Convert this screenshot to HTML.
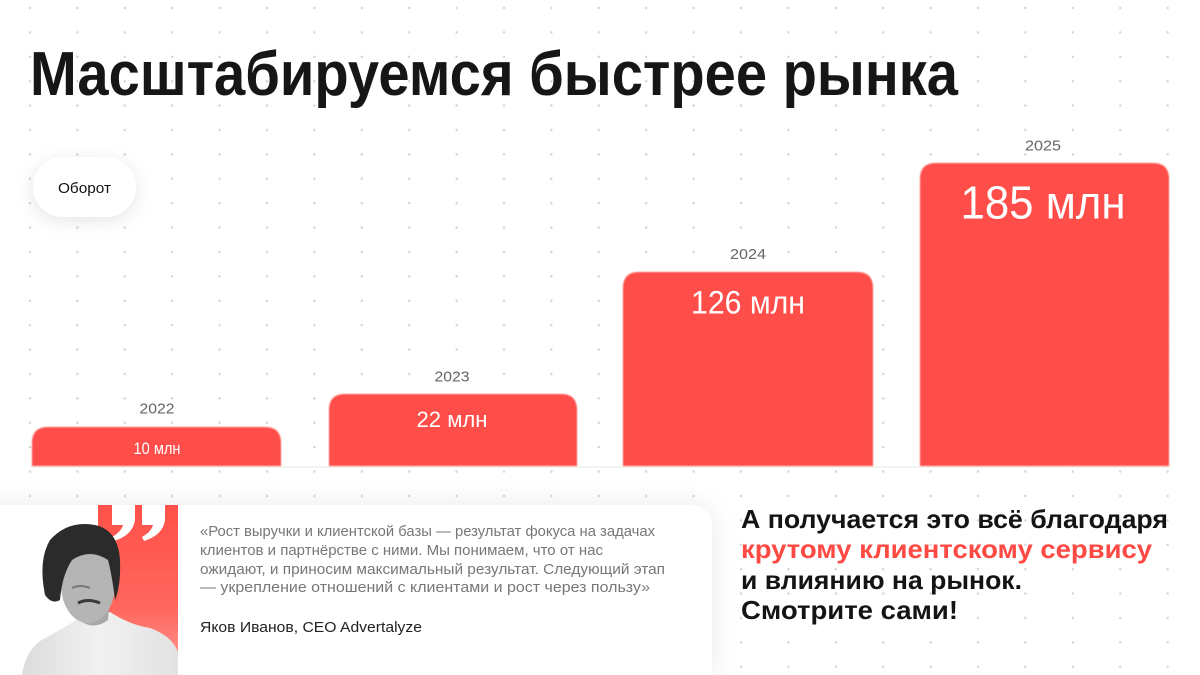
<!DOCTYPE html>
<html><head><meta charset="utf-8">
<style>
html,body{margin:0;padding:0;background:#fff;width:1200px;height:675px;overflow:hidden;}
body{position:relative;font-family:"Liberation Sans",sans-serif;}
svg{position:absolute;left:0;top:0;}
#card{position:absolute;left:-30px;top:505px;width:742px;height:170px;background:#fff;border-radius:0 20px 0 0;box-shadow:0 0 28px rgba(0,0,0,0.09);}
</style></head><body>
<svg width="1200" height="675" viewBox="0 0 1200 675">
  <defs>
    <pattern id="dots" x="6.3" y="-4.2" width="47.4" height="24.4" patternUnits="userSpaceOnUse">
      <circle cx="23.7" cy="12.2" r="1.2" fill="#d2d2d2"/>
    </pattern>
    <filter id="soft" x="-5%" y="-5%" width="110%" height="110%"><feGaussianBlur stdDeviation="0.8"/></filter>
    <filter id="pillsh" x="-50%" y="-50%" width="200%" height="200%"><feDropShadow dx="0" dy="4" stdDeviation="9" flood-color="#000" flood-opacity="0.10"/></filter>
  </defs>
  <rect width="1200" height="675" fill="url(#dots)"/>
  <text x="30" y="95" font-size="62" font-weight="700" fill="#161616" textLength="928" lengthAdjust="spacingAndGlyphs">Масштабируемся быстрее рынка</text>
  <rect x="33" y="157" width="103" height="60" rx="30" fill="#fff" filter="url(#pillsh)"/>
  <text x="84.5" y="193" font-size="15" fill="#111" text-anchor="middle" textLength="53" lengthAdjust="spacingAndGlyphs">Оборот</text>
  <line x1="30" y1="467" x2="1170" y2="467" stroke="#e8e8e8" stroke-width="1"/>
  <g fill="#ff4e48" filter="url(#soft)">
    <path d="M32,466 V443 Q32,427 48,427 H265 Q281,427 281,443 V466 Z"/>
    <path d="M329,466 V410 Q329,394 345,394 H561 Q577,394 577,410 V466 Z"/>
    <path d="M623,466 V288 Q623,272 639,272 H857 Q873,272 873,288 V466 Z"/>
    <path d="M920,466 V179 Q920,163 936,163 H1153 Q1169,163 1169,179 V466 Z"/>
  </g>
  <g font-size="15" fill="#666" text-anchor="middle">
    <text x="157" y="413.5" textLength="35" lengthAdjust="spacingAndGlyphs">2022</text>
    <text x="452" y="381.5" textLength="35" lengthAdjust="spacingAndGlyphs">2023</text>
    <text x="748" y="259" textLength="36" lengthAdjust="spacingAndGlyphs">2024</text>
    <text x="1043" y="150.5" textLength="36" lengthAdjust="spacingAndGlyphs">2025</text>
  </g>
  <g fill="#fff" text-anchor="middle">
    <text x="157" y="454" font-size="16.5" textLength="47" lengthAdjust="spacingAndGlyphs">10 млн</text>
    <text x="452" y="427" font-size="22" textLength="71" lengthAdjust="spacingAndGlyphs">22 млн</text>
    <text x="748" y="313.5" font-size="32" textLength="114" lengthAdjust="spacingAndGlyphs">126 млн</text>
    <text x="1043" y="218.5" font-size="46" textLength="165" lengthAdjust="spacingAndGlyphs">185 млн</text>
  </g>
  <g font-size="26" font-weight="700" fill="#141414">
    <text x="741" y="528" textLength="427" lengthAdjust="spacingAndGlyphs">А получается это всё благодаря</text>
    <text x="741" y="558" fill="#ff4a44" textLength="411" lengthAdjust="spacingAndGlyphs">крутому клиентскому сервису</text>
    <text x="741" y="589" textLength="281" lengthAdjust="spacingAndGlyphs">и влиянию на рынок.</text>
    <text x="741" y="619" textLength="217" lengthAdjust="spacingAndGlyphs">Смотрите сами!</text>
  </g>
</svg>
<div id="card"></div>
<svg width="1200" height="675" viewBox="0 0 1200 675">
  <defs>
    <linearGradient id="stripe" x1="0" y1="0" x2="0" y2="1">
      <stop offset="0" stop-color="#ff5149"/>
      <stop offset="0.7" stop-color="#ff675e"/>
      <stop offset="1" stop-color="#ff8f88"/>
    </linearGradient>
    <linearGradient id="shirt" x1="0" y1="0" x2="1" y2="0">
      <stop offset="0" stop-color="#dcdcdc"/>
      <stop offset="0.5" stop-color="#f1f1f1"/>
      <stop offset="1" stop-color="#e2e2e2"/>
    </linearGradient>
  </defs>
  <rect x="98" y="505" width="80" height="150" fill="url(#stripe)"/>
  <g fill="#fff">
    <path d="M112,505 H135 V520 Q133,535 114,541 L112,537 Q121,532 123,525 H112 Z"/>
    <path d="M142,505 H165 V520 Q163,535 144,541 L142,537 Q151,532 153,525 H142 Z"/>
  </g>
  <path d="M22,675 Q26,648 45,638 Q70,625 88,612 L110,612 Q130,625 150,628 Q172,636 178,652 V675 Z" fill="url(#shirt)"/>
  <path d="M80,600 L82,622 Q95,630 108,620 L110,598 Z" fill="#a9a9a9"/>
  <ellipse cx="88" cy="585" rx="27" ry="38" fill="#b5b5b5"/>
  <path d="M72,588 Q80,584 90,588" stroke="#777" stroke-width="2" fill="none"/>
  <path d="M78,603 Q88,598 100,603" stroke="#3a3a3a" stroke-width="3" fill="none"/>
  <path d="M45,595 Q38,560 50,540 Q68,520 95,525 Q118,530 120,560 Q121,585 115,600 Q112,575 108,560 Q90,548 72,560 Q62,575 60,600 Q52,605 45,595 Z" fill="#2b2b2b"/>
  <g font-size="14.5" fill="#777">
    <text x="200" y="536" textLength="455" lengthAdjust="spacingAndGlyphs">«Рост выручки и клиентской базы — результат фокуса на задачах</text>
    <text x="200" y="555" textLength="403" lengthAdjust="spacingAndGlyphs">клиентов и партнёрстве с ними. Мы понимаем, что от нас</text>
    <text x="200" y="574" textLength="465" lengthAdjust="spacingAndGlyphs">ожидают, и приносим максимальный результат. Следующий этап</text>
    <text x="200" y="592" textLength="450" lengthAdjust="spacingAndGlyphs">— укрепление отношений с клиентами и рост через пользу»</text>
  </g>
  <text x="200" y="632" font-size="14.5" fill="#222" textLength="222" lengthAdjust="spacingAndGlyphs">Яков Иванов, CEO Advertalyze</text>
</svg>
</body></html>
